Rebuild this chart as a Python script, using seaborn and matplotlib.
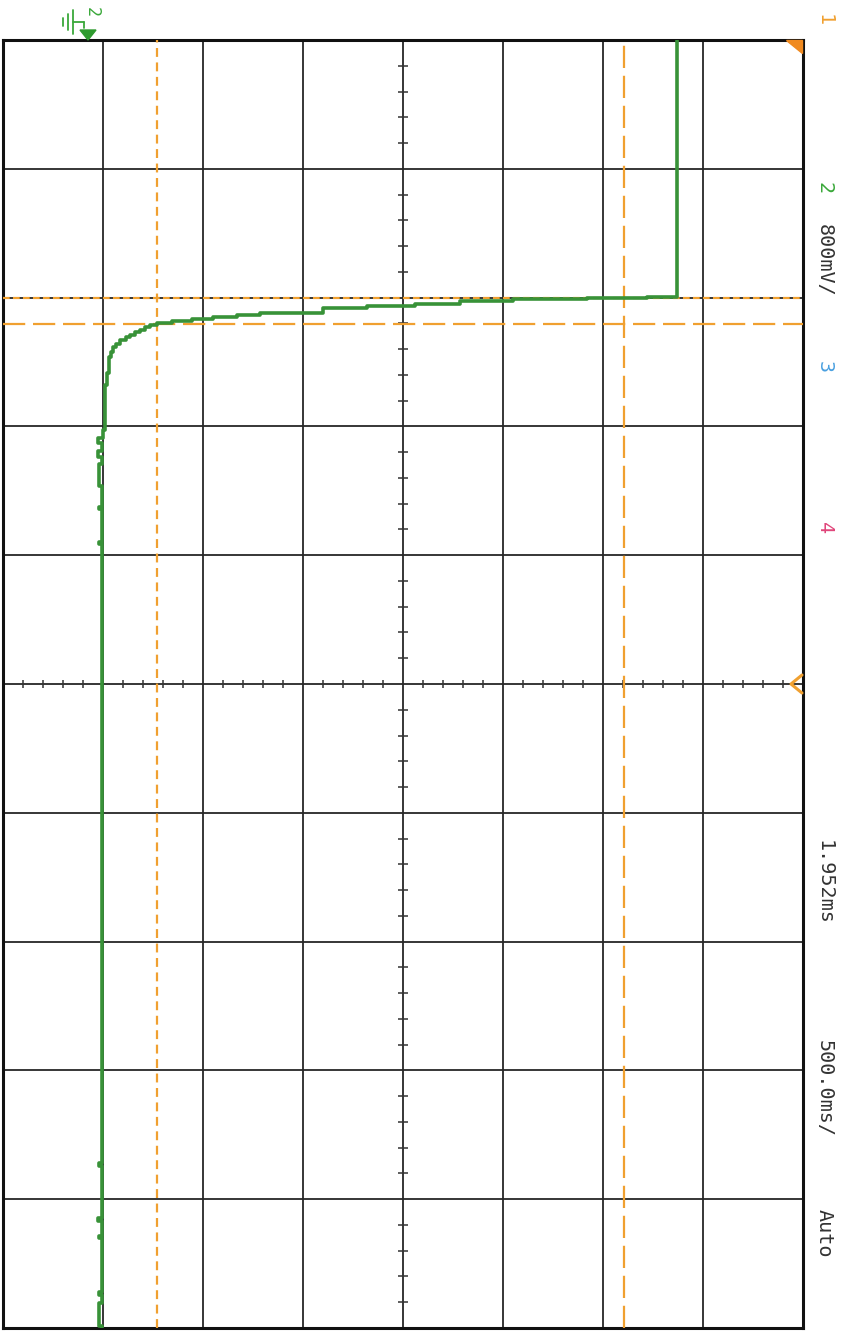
import numpy as np
import pandas as pd
import seaborn as sns
import matplotlib.pyplot as plt
from matplotlib.lines import Line2D
from matplotlib.patches import Polygon

# ---- data (channel 2 trace: time in ms from screen start, voltage in V) ----
time_ms = [0, 997.7, 1001.6, 1005.4, 1015.1, 1024.8, 1032.6, 1040.4, 1059.8,
           1067.5, 1075.3, 1083.1, 1090.8, 1098.6, 1106.4, 1114.1, 1125.8,
           1133.5, 1145.2, 1152.9, 1164.6, 1180.1, 1191.8, 1211.2, 1230.6,
           1292.7, 1339.3, 1514.0,
           1545, 1565, 1596, 1619, 1646, 1731, 1813, 1821, 1949, 1957,
           4360, 4371, 4573, 4585, 4643, 4651, 4860, 4872, 4903, 4992, 5000]
volt_v = [4.712, 4.472, 3.992, 3.400, 2.976, 2.616, 2.232, 1.880, 1.376,
          1.192, 1.000, 0.832, 0.672, 0.552, 0.496, 0.456, 0.416,
          0.376, 0.336, 0.304, 0.256, 0.224, 0.200, 0.184, 0.168,
          0.152, 0.136, 0.120,
          0.080, 0.112, 0.080, 0.112, 0.085, 0.112, 0.085, 0.112, 0.085, 0.112,
          0.085, 0.112, 0.080, 0.112, 0.085, 0.112, 0.085, 0.112, 0.085, 0.112, 0.112]

# cursors
cursor_v = [0.552, 4.288]
cursor_t = [1001.6, 1102.5]

# scope settings
volts_per_div = 0.8
ms_per_div = 500.0
ground_offset_div = 0.85
n_xdiv, n_tdiv = 8, 10

label_texts = ["1", "2", "800mV/", "3", "4", "1.952ms", "500.0ms/", "Auto"]
label_colors = ["#f0a030", "#3aa83a", "#333333", "#4aa0e0", "#e0457a",
                "#333333", "#333333", "#333333"]
label_ypx = [20, 188, 260, 367, 528, 882, 1088, 1233]

W, H = 849, 1331
sns.set_style("white")
plt.rcParams['font.family'] = ['DejaVu Sans Mono', 'DejaVu Sans']

fig = plt.figure(figsize=(W / 100, H / 100), dpi=100)
fig.patch.set_facecolor("white")
ax = fig.add_axes([3 / W, 3 / H, 800 / W, 1288 / H])

x_left = -ground_offset_div * volts_per_div
x_right = x_left + n_xdiv * volts_per_div
t_end = n_tdiv * ms_per_div
ax.set_xlim(x_left, x_right)
ax.set_ylim(t_end, 0)
ax.set_xticks([x_left + k * volts_per_div for k in range(n_xdiv + 1)])
ax.set_yticks([k * ms_per_div for k in range(n_tdiv + 1)])
ax.grid(True, color="#262626", lw=1.3, ls="-")
ax.tick_params(length=0, labelbottom=False, labelleft=False)
for sp in ax.spines.values():
    sp.set_color("#111111")
    sp.set_linewidth(2.2)
ax.set_xlabel("")
ax.set_ylabel("")

# minor ticks on centre axes
center_v = x_left + n_xdiv / 2 * volts_per_div
center_t = t_end / 2
minor_t = [k * ms_per_div / 5 for k in range(1, n_tdiv * 5) if k % 5]
minor_v = [x_left + k * volts_per_div / 5 for k in range(1, n_xdiv * 5) if k % 5]
ax.plot([center_v] * len(minor_t), minor_t, ls="none", marker="_", ms=7,
        mew=1.1, color="#333333", zorder=2)
ax.plot(minor_v, [center_t] * len(minor_v), ls="none", marker="|", ms=6,
        mew=1.1, color="#333333", zorder=2)

# cursors
orange = "#f0a030"
ax.axvline(cursor_v[0], color=orange, lw=1.6, ls=(0, (4, 2.5)), zorder=3)
ax.axvline(cursor_v[1], color=orange, lw=1.6, ls=(0, (10, 3.5)), zorder=3)
ax.axhline(cursor_t[0], color=orange, lw=1.6, ls=(0, (3, 1.5)), zorder=3)
ax.axhline(cursor_t[1], color=orange, lw=1.6, ls=(0, (10, 3.5)), zorder=3)

# trace
df = pd.DataFrame({"t": time_ms, "v": volt_v})
sns.lineplot(data=df, x="v", y="t", orient="y", sort=False, estimator=None,
             drawstyle="steps-pre", color="#389238", lw=2.6, ax=ax, zorder=4)
ax.set_xlabel("")
ax.set_ylabel("")


def px(x, y):
    return (x / W, 1 - y / H)


# ground marker for channel 2
green = "#3aa83a"
for (x0, y0, x1, y1) in [(63, 18, 63, 26), (68, 14, 68, 30), (73, 10, 73, 34),
                         (73, 22, 84, 22), (84, 22, 84, 28)]:
    a, b = px(x0, y0)
    c, d = px(x1, y1)
    fig.add_artist(Line2D([a, c], [b, d], transform=fig.transFigure,
                          color=green, lw=1.3))
fig.text(*px(92, 12), "2", rotation=-90, color=green, fontsize=12,
         ha="center", va="center")
fig.add_artist(Polygon([px(80, 30), px(96, 30), px(88, 40)], closed=True,
                       transform=fig.transFigure, color="#2e9a2e"))

# trigger markers
fig.add_artist(Polygon([px(786, 40), px(802, 40), px(802, 53)], closed=True,
                       transform=fig.transFigure, color="#f08a20"))
xs, ys = zip(px(802, 675), px(791, 684), px(802, 693))
fig.add_artist(Line2D(xs, ys, transform=fig.transFigure, color=orange, lw=2.2))

# side labels
for txt, col, ypx in zip(label_texts, label_colors, label_ypx):
    fig.text(*px(824, ypx), txt, rotation=-90, color=col, fontsize=14.5,
             ha="center", va="center")

fig.savefig("out.png", dpi=100, facecolor="white")
